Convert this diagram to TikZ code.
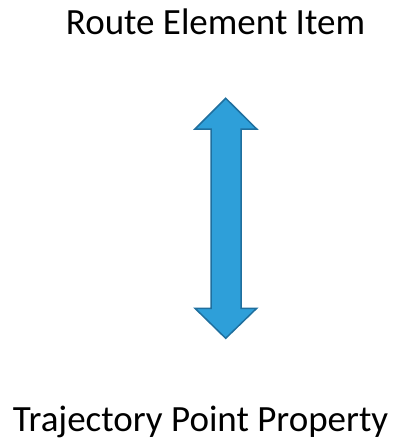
\documentclass[tikz,border=0pt]{standalone}
\usepackage{fontspec}
\setmainfont{Carlito}
\definecolor{arrfill}{HTML}{2E9FD9}
\definecolor{arrline}{HTML}{1F6F9E}
\begin{document}
\begin{tikzpicture}[x=1pt,y=-1pt,
  lbl/.style={font=\fontsize{37}{42}\selectfont, inner sep=0pt, anchor=base},
  bigarrow/.style={fill=arrfill, draw=arrline, line width=1.5pt, line join=miter}]
\useasboundingbox (0,0) rectangle (397,440);
\node[lbl] (top) at (215.5,34.3) {Route Element Item};
\node[lbl] (bot) at (200.5,431.5) {Trajectory Point Property};
\draw[bigarrow] (225.7,98.3) -- (256.7,129) -- (241,129) -- (241,308.3) -- (256.7,308.3)
  -- (225.7,338.3) -- (195,308.3) -- (211,308.3) -- (211,129) -- (195,129) -- cycle;
\end{tikzpicture}
\end{document}
